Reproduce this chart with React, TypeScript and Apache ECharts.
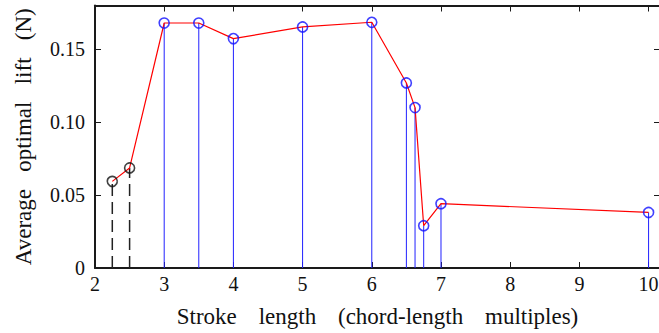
import React, { useEffect, useRef } from "react";
import * as echarts from "echarts";

const strokeLengths = [2.25, 2.5, 3, 3.5, 4, 5, 6, 6.5, 6.625, 6.75, 7, 10];
const avgLift = [0.0594, 0.0686, 0.168, 0.168, 0.1573, 0.1653, 0.1685, 0.1269, 0.110, 0.029, 0.0441, 0.0381];
// first two points are drawn as black dashed stems
const dashedCount = 2;
const xTicks = [2, 3, 4, 5, 6, 7, 8, 9, 10];
const yTicks = [0, 0.05, 0.1, 0.15];
const xTitle = ["Stroke", "length", "(chord-length", "multiples)"].join("\u00A0\u00A0\u00A0\u2009");
const yTitle = ["Average", "optimal", "lift", "(N)"].join("\u00A0\u00A0\u00A0");

const FONT = "Liberation Serif";

export default function App() {
  const ref = useRef<HTMLDivElement>(null);
  useEffect(() => {
    document.body.style.margin = "0";
    document.body.style.overflow = "hidden";
    const chart = echarts.init(ref.current!, null, { renderer: "svg" });
    const pts = strokeLengths.map((x, i) => [x, avgLift[i], i]);
    const isTick = (v: number, arr: number[]) => arr.some((t) => Math.abs(t - v) < 1e-9);
    const axisCommon = {
      axisLine: { show: true, onZero: false, lineStyle: { color: "#1a1a1a", width: 2 } },
      axisTick: { show: true, inside: true, length: 6, lineStyle: { color: "#1a1a1a", width: 1 } },
      splitLine: { show: false },
    };
    chart.setOption({
      animation: false,
      textStyle: { fontFamily: FONT },
      grid: { left: 95, top: 5.5, right: 3, bottom: 64.7, containLabel: false },
      xAxis: [
        {
          type: "value",
          min: 2,
          max: 10.165,
          interval: 1,
          ...axisCommon,
          axisLabel: {
            fontFamily: FONT,
            fontSize: 20,
            color: "#111",
            margin: 6,
            formatter: (v: number) => (isTick(v, xTicks) ? String(v) : ""),
          },
          name: xTitle,
          nameLocation: "middle",
          nameGap: 37,
          nameTextStyle: { fontFamily: FONT, fontSize: 23, color: "#111" },
        },
        {
          type: "value",
          position: "top",
          min: 2,
          max: 10.165,
          interval: 1,
          ...axisCommon,
          axisLabel: { show: false },
        },
      ],
      yAxis: [
        {
          type: "value",
          min: 0,
          max: 0.18,
          interval: 0.05,
          ...axisCommon,
          axisLabel: {
            fontFamily: FONT,
            fontSize: 20,
            color: "#111",
            margin: 10,
            formatter: (v: number) => (isTick(v, yTicks) ? (v === 0 ? "0" : v.toFixed(2)) : ""),
          },
          name: yTitle,
          nameLocation: "middle",
          nameGap: 60,
          nameTextStyle: { fontFamily: FONT, fontSize: 23, color: "#111" },
        },
        {
          type: "value",
          position: "right",
          min: 0,
          max: 0.18,
          interval: 0.05,
          ...axisCommon,
          axisLabel: { show: false },
        },
      ],
      series: [
        {
          type: "custom",
          renderItem: (params: any, api: any) => {
            const x = api.value(0);
            const y = api.value(1);
            const idx = api.value(2);
            const p0 = api.coord([x, 0]);
            const p1 = api.coord([x, y]);
            const dashed = idx < dashedCount;
            return {
              type: "line",
              shape: { x1: p0[0], y1: p0[1], x2: p1[0], y2: p1[1] },
              style: dashed
                ? { stroke: "#222", lineWidth: 1.5, lineDash: [12, 6] }
                : { stroke: "#2020ff", lineWidth: 1 },
            };
          },
          data: pts,
          encode: { x: 0, y: 1 },
          z: 2,
        },
        {
          type: "line",
          data: pts.map((p) => [p[0], p[1]]),
          showSymbol: false,
          symbol: "none",
          lineStyle: { color: "#ff0000", width: 1.2 },
          z: 3,
        },
        {
          type: "scatter",
          data: pts.slice(0, dashedCount).map((p) => [p[0], p[1]]),
          symbol: "circle",
          symbolSize: 10,
          itemStyle: { color: "rgba(0,0,0,0)", borderColor: "#111", borderWidth: 1.6 },
          z: 4,
        },
        {
          type: "scatter",
          data: pts.slice(dashedCount).map((p) => [p[0], p[1]]),
          symbol: "circle",
          symbolSize: 10,
          itemStyle: { color: "rgba(0,0,0,0)", borderColor: "#1010ff", borderWidth: 1.6 },
          z: 4,
        },
      ],
    });
    return () => chart.dispose();
  }, []);
  return <div ref={ref} style={{ width: 663, height: 333 }} />;
}
